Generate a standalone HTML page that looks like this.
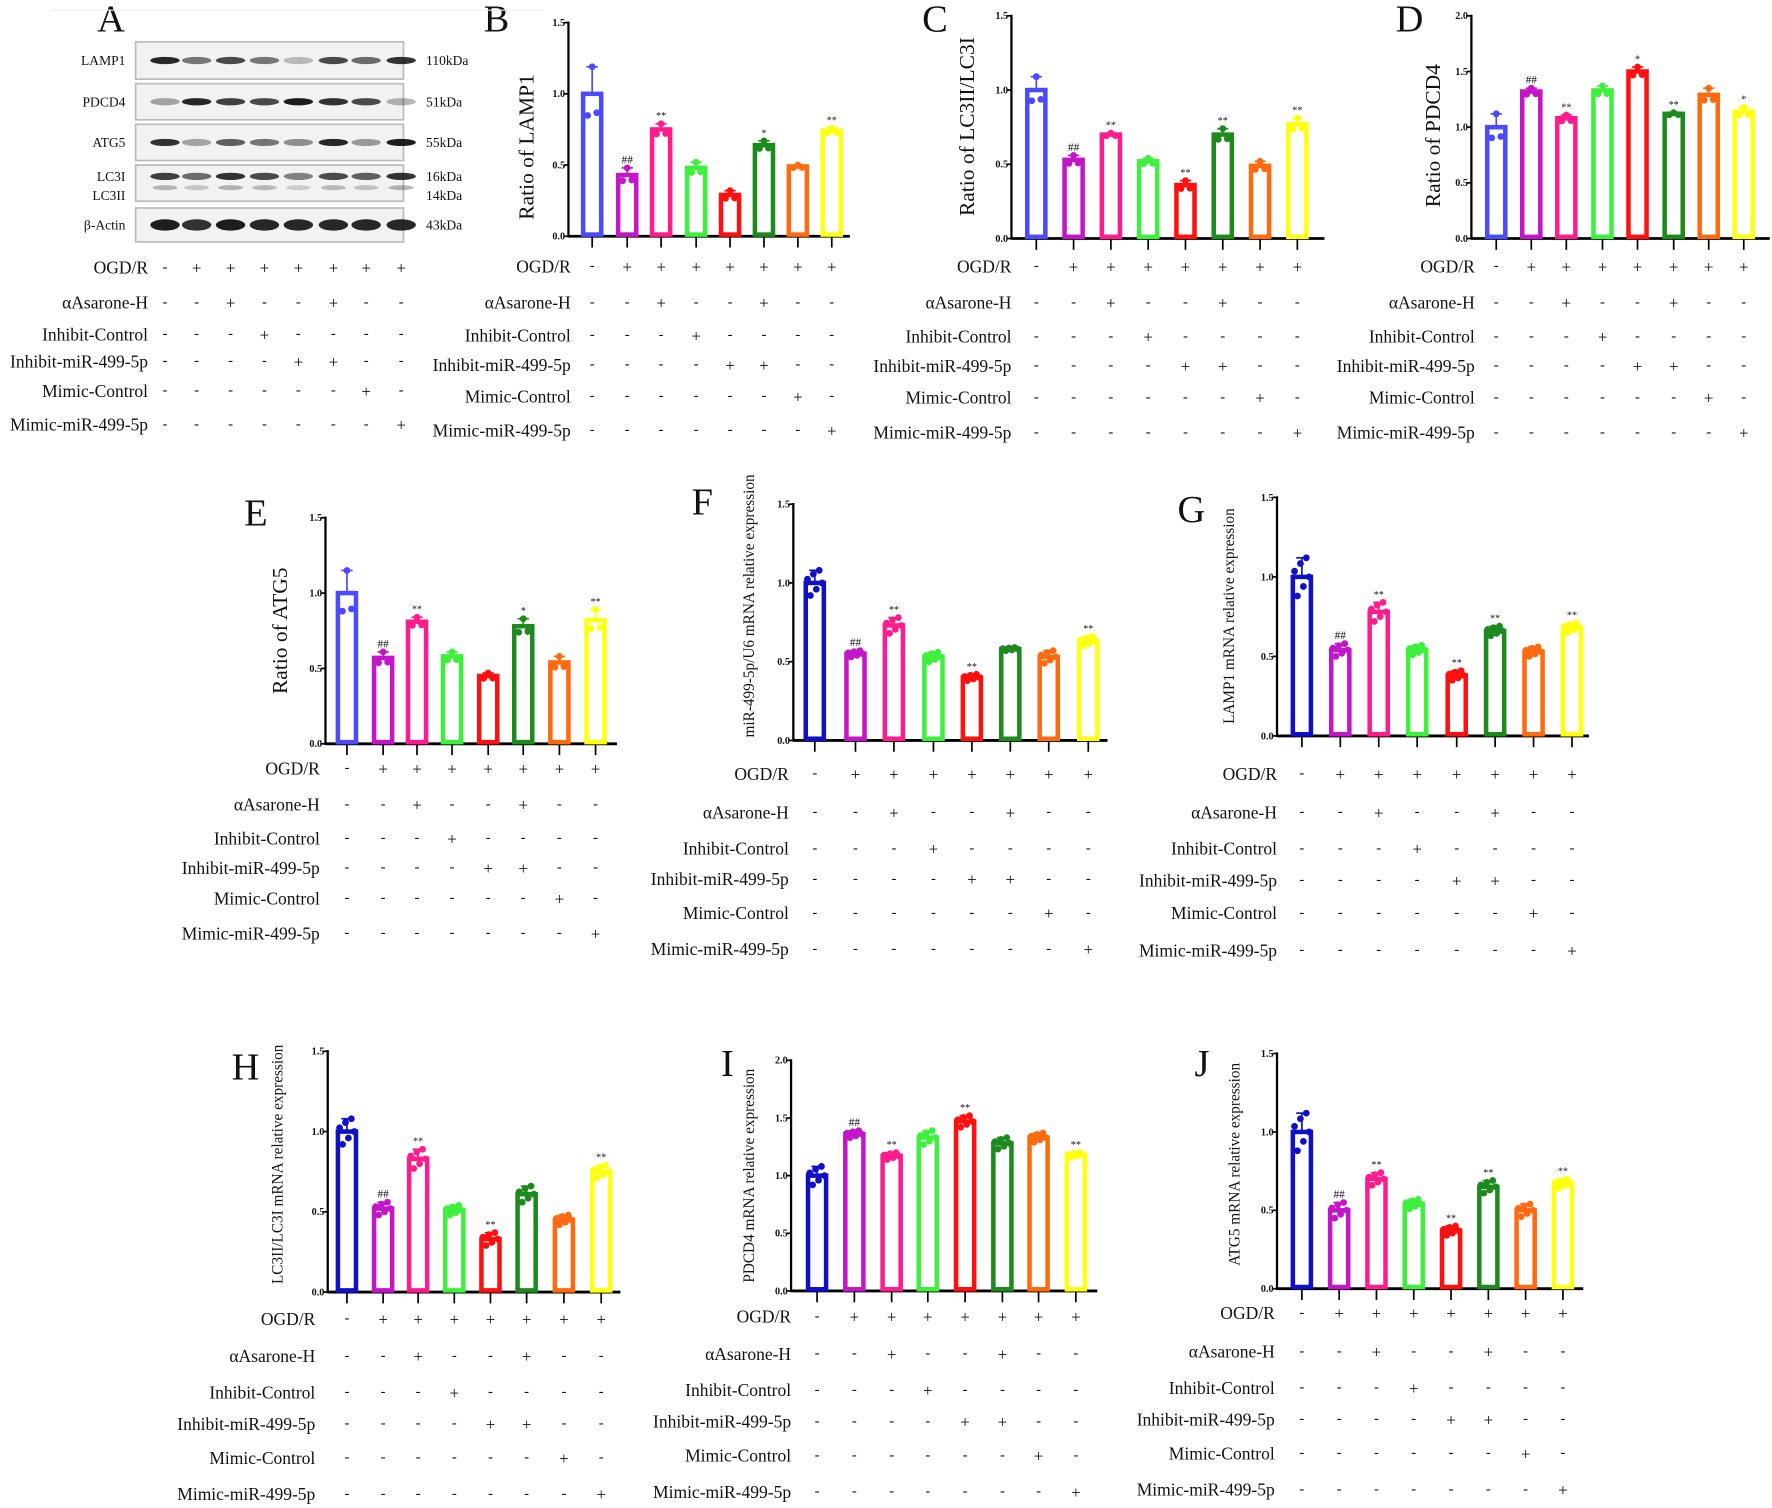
<!DOCTYPE html>
<html><head><meta charset="utf-8">
<style>
html,body{margin:0;padding:0;background:#fff;}
svg{display:block;}
text{font-family:"Liberation Serif",serif;fill:#111;}
</style></head>
<body>
<svg id="fig" xmlns="http://www.w3.org/2000/svg" width="1772" height="1508" viewBox="0 0 1568 1334" preserveAspectRatio="none">
<rect width="1568" height="1334" fill="#fff"/>
</svg>
<script>
const NS='http://www.w3.org/2000/svg';
const svg=document.getElementById('fig');
function mk(tag,attrs,parent,txt){const e=document.createElementNS(NS,tag);for(const k in attrs)e.setAttribute(k,attrs[k]);if(txt!==undefined)e.textContent=txt;(parent||svg).appendChild(e);return e;}

// ---- data ----
const groups=['Control','OGD/R','OGD/R+aAsarone-H','Inhibit-Control','Inhibit-miR-499-5p','aAsarone+Inhibit','Mimic-Control','Mimic-miR-499-5p'];
const rowLabels=['OGD/R','αAsarone-H','Inhibit-Control','Inhibit-miR-499-5p','Mimic-Control','Mimic-miR-499-5p'];
const rowSigns=[
 ['-','+','+','+','+','+','+','+'],
 ['-','-','+','-','-','+','-','-'],
 ['-','-','-','+','-','-','-','-'],
 ['-','-','-','-','+','+','-','-'],
 ['-','-','-','-','-','-','+','-'],
 ['-','-','-','-','-','-','-','+']];
const valsB=[1.0,0.43,0.75,0.48,0.29,0.64,0.49,0.74];
const errB=[0.19,0.05,0.04,0.04,0.03,0.03,0.01,0.02];
const valsC=[1.0,0.53,0.70,0.52,0.36,0.70,0.49,0.77];
const errC=[0.09,0.03,0.01,0.02,0.03,0.04,0.03,0.04];
const valsD=[1.0,1.32,1.08,1.33,1.50,1.12,1.29,1.14];
const errD=[0.12,0.03,0.03,0.04,0.04,0.01,0.06,0.04];
const valsE=[1.0,0.57,0.81,0.58,0.45,0.78,0.54,0.82];
const errE=[0.15,0.04,0.03,0.03,0.02,0.05,0.04,0.07];
const valsF=[1.0,0.55,0.73,0.53,0.40,0.58,0.53,0.63];
const errF=[0.08,0.02,0.05,0.03,0.02,0.01,0.04,0.03];
const valsG=[1.0,0.54,0.78,0.54,0.38,0.66,0.53,0.68];
const errG=[0.12,0.04,0.06,0.03,0.03,0.03,0.03,0.03];
const valsH=[1.0,0.52,0.83,0.51,0.33,0.61,0.45,0.75];
const errH=[0.08,0.04,0.06,0.03,0.04,0.05,0.03,0.04];
const valsI=[1.0,1.36,1.17,1.33,1.47,1.28,1.33,1.18];
const errI=[0.08,0.03,0.03,0.06,0.05,0.05,0.04,0.02];
const valsJ=[1.0,0.50,0.70,0.54,0.37,0.65,0.50,0.67];
const errJ=[0.12,0.05,0.04,0.03,0.03,0.04,0.04,0.03];
const sigB=['','##','**','','','*','','**'];
const sigC=['','##','**','','**','**','','**'];
const sigD=['','##','**','','*','**','','*'];
const sigE=['','##','**','','','*','','**'];
const sigF=['','##','**','','**','','','**'];
const sigG=['','##','**','','**','**','','**'];
const sigH=['','##','**','','**','','','**'];
const sigI=['','##','**','','**','','','**'];
const sigJ=['','##','**','','**','**','','**'];
const ticks15=['0.0','0.5','1.0','1.5'];
const ticks20=['0.0','0.5','1.0','1.5','2.0'];
// relative offsets of replicate dots (as fraction of sd)
const dots3=[-0.8,1.0,-0.7];
const dots6=[0.3,-1,0.7,-0.5,1,0];
const colorsLight=['#4a4aff','#c316c9','#ff1c8d','#3cf03c','#ff1010','#1d8a1d','#ff6a10','#ffff10'];
const colorsDark=['#1010c8','#c316c9','#ff1c8d','#3cf03c','#ff1010','#1d8a1d','#ff6a10','#ffff10'];

// ---- panel builder ----
function panel(p){
 const g=mk('g',{});
 
 
 const yS=v=>p.y0+(p.y1-p.y0)*v/p.vmax;
 const letter=mk('text',{x:p.lx,y:p.ly,'font-size':34},g,p.id);
 
 
 const ya=mk('line',{x1:p.ax,y1:p.y1-1,x2:p.ax,y2:p.y0+1,stroke:'#000','stroke-width':2},g);
 
 
 const xa=mk('line',{x1:p.ax,y1:p.y0,x2:p.xend,y2:p.y0,stroke:'#000','stroke-width':2.5},g);
 
 
 p.ticks.forEach(t=>{
  const y=yS(parseFloat(t));
  mk('line',{x1:p.ax-4,y1:y,x2:p.ax,y2:y,stroke:'#000','stroke-width':1.5},g);
  const tl=mk('text',{x:p.ax-3,y:y+3,'font-size':9,'text-anchor':'end','font-weight':'bold'},g,t);
  
  
 });
 const yt=mk('text',{x:0,y:0,'font-size':p.tfs,'text-anchor':'middle',transform:`translate(${p.tx},${p.ty}) rotate(-90)`},g,p.title);
 
 
 const bw=p.bw||20;
 p.vals.forEach((v,i)=>{
  const cx=p.xs[i], col=p.colors[i];
  mk('line',{x1:cx,y1:p.y0,x2:cx,y2:p.y0+10,stroke:'#000','stroke-width':1.5},g);
  const yv=yS(v);
  const b=mk('rect',{x:cx-bw/2+2,y:yv,width:bw-4,height:p.y0-yv-1.5,fill:'#fff',stroke:col,'stroke-width':4},g);
  
  
  const ye=yS(v+p.err[i]);
  mk('line',{x1:cx,y1:yv,x2:cx,y2:ye,stroke:col,'stroke-width':1.5},g);
  mk('line',{x1:cx-5,y1:ye,x2:cx+5,y2:ye,stroke:col,'stroke-width':1.5},g);
  const offs=p.n===3?dots3:dots6;
  offs.forEach((o,k)=>{
   const dx=p.n===3?(k-1)*4:(k-2.5)*2.6;
   const d=mk('circle',{cx:cx+dx,cy:yS(v+o*p.err[i]),r:3,fill:col},g);
   
   
  });
  if(p.sig[i]){
   const s=mk('text',{x:cx,y:ye-4,'font-size':p.sig[i]==='##'?10:9,'text-anchor':'middle'},g,p.sig[i]);
   
   
  }
 });
 rowLabels.forEach((lab,r)=>{
  const y=p.rows[r];
  const t=mk('text',{x:p.rlx,y:y+5,'font-size':15.5,'text-anchor':'end'},g,lab);
  
  
  rowSigns[r].forEach((s,i)=>{
   const cx=(p.cols||p.xs)[i];
   const st=mk('text',{x:cx,y:y+(s==='+'?5:3),'font-size':s==='+'?15:13,'text-anchor':'middle'},g,s==='+'?'+':'-');
   
   
  });
 });
}

panel({id:'B',lx:428,ly:28,ax:503,y0:209,y1:20,vmax:1.5,xend:752,ticks:ticks15,
 xs:[524,555,585,616,646,676,706,736],vals:valsB,err:errB,sig:sigB,colors:colorsLight,n:3,
 title:'Ratio of LAMP1',tfs:19,tx:472,ty:130,rows:[236,268,297,323,351,381],rlx:505});
panel({id:'C',lx:816,ly:28,ax:895,y0:211,y1:14,vmax:1.5,xend:1172,ticks:ticks15,
 xs:[917,950,983,1016,1049,1082,1115,1148],vals:valsC,err:errC,sig:sigC,colors:colorsLight,n:3,
 title:'Ratio of LC3II/LC3I',tfs:19,tx:862,ty:112,rows:[236,268,298,324,352,383],rlx:895});
panel({id:'D',lx:1235,ly:28,ax:1302,y0:211,y1:14,vmax:2.0,xend:1566,ticks:ticks20,
 xs:[1324,1355,1386,1418,1449,1481,1512,1543],vals:valsD,err:errD,sig:sigD,colors:colorsLight,n:3,
 title:'Ratio of PDCD4',tfs:19,tx:1274,ty:120,rows:[236,268,298,324,352,383],rlx:1305});
panel({id:'E',lx:216,ly:465,ax:288,y0:658,y1:458,vmax:1.5,xend:546,ticks:ticks15,
 xs:[307,339,369,400,432,463,495,527],vals:valsE,err:errE,sig:sigE,colors:colorsLight,n:3,
 title:'Ratio of ATG5',tfs:19,tx:254,ty:558,rows:[680,712,742,768,795,826],rlx:283});
panel({id:'F',lx:612,ly:455,ax:702,y0:655,y1:446,vmax:1.5,xend:980,ticks:ticks15,
 xs:[721,757,791,826,860,894,928,963],vals:valsF,err:errF,sig:sigF,colors:colorsDark,n:6,
 title:'miR-499-5p/U6 mRNA relative expression',tfs:13.5,tx:667,ty:536,rows:[685,719,751,778,808,840],rlx:698});
panel({id:'G',lx:1042,ly:462,ax:1130,y0:651,y1:440,vmax:1.5,xend:1406,ticks:ticks15,
 xs:[1152,1186,1220,1254,1289,1323,1357,1391],vals:valsG,err:errG,sig:sigG,colors:colorsDark,n:6,
 title:'LAMP1 mRNA relative expression',tfs:13.5,tx:1092,ty:545,rows:[685,719,751,779,808,841],rlx:1130});
panel({id:'H',lx:205,ly:955,ax:290,y0:1143,y1:930,vmax:1.5,xend:549,ticks:ticks15,
 xs:[307,339,370,402,434,466,499,532],vals:valsH,err:errH,sig:sigH,colors:colorsDark,n:6,
 title:'LC3II/LC3I mRNA relative expression',tfs:13.5,tx:250,ty:1030,rows:[1167,1200,1232,1260,1290,1322],rlx:279});
panel({id:'I',lx:638,ly:952,ax:700,y0:1142,y1:938,vmax:2.0,xend:971,ticks:ticks20,
 xs:[723,756,789,821,854,887,919,952],vals:valsI,err:errI,sig:sigI,colors:colorsDark,n:6,
 title:'PDCD4 mRNA relative expression',tfs:13.5,tx:667,ty:1040,rows:[1165,1198,1230,1258,1288,1320],rlx:700});
panel({id:'J',lx:1057,ly:952,ax:1130,y0:1140,y1:932,vmax:1.5,xend:1401,ticks:ticks15,
 xs:[1152,1185,1218,1251,1284,1317,1350,1383],vals:valsJ,err:errJ,sig:sigJ,colors:colorsDark,n:6,
 title:'ATG5 mRNA relative expression',tfs:13.5,tx:1097,ty:1030,rows:[1162,1196,1228,1256,1286,1318],rlx:1128});

// ---- Panel A: western blot ----
const blotNames=['LAMP1','PDCD4','ATG5','LC3I','β-Actin'];
const blotKda=['110kDa','51kDa','55kDa','16kDa','43kDa'];
const bandLAMP1=[0.9,0.55,0.75,0.55,0.25,0.75,0.6,0.85];
const bandPDCD4=[0.35,0.9,0.8,0.75,0.95,0.85,0.75,0.3];
const bandATG5=[0.85,0.35,0.65,0.55,0.45,0.9,0.4,0.95];
const bandLC3I=[0.8,0.6,0.85,0.75,0.5,0.75,0.65,0.85];
const bandActin=[0.95,0.85,0.95,0.9,0.9,0.9,0.9,0.9];
(function(){
 const g=mk('g',{});
 
 
 const L=mk('text',{x:86,y:28,'font-size':34},g,'A');
 
 
 mk('line',{x1:45,y1:9,x2:480,y2:9,stroke:'#eee','stroke-width':1},g);
 const boxes=[[37,70],[74,106],[110,142],[146,178],[184,214]];
 const bands=[bandLAMP1,bandPDCD4,bandATG5,bandLC3I,bandActin];
 const cols=[146,174,204,234,264,295,324,355];
 boxes.forEach((b,r)=>{
  const rect=mk('rect',{x:120,y:b[0],width:237,height:b[1]-b[0],fill:'#f2f2f2',stroke:'#bbb','stroke-width':1.5},g);
  
  
  const by=r===3?(b[0]+10):(b[0]+b[1])/2;
  bands[r].forEach((v,i)=>{
   mk('ellipse',{cx:cols[i],cy:by,rx:13,ry:r===4?5:3.2,fill:'#111','fill-opacity':v},g);
   if(r===3) mk('ellipse',{cx:cols[i],cy:by+10,rx:11,ry:2.2,fill:'#333','fill-opacity':v*0.4},g);
  });
  const nm=mk('text',{x:111,y:by+4,'font-size':12,'text-anchor':'end',fill:'#444'},g,blotNames[r]);
  
  
  const kd=mk('text',{x:377,y:by+4,'font-size':12,fill:'#444'},g,blotKda[r]);
  
  
  if(r===3){
   const n2=mk('text',{x:111,y:by+21,'font-size':12,'text-anchor':'end',fill:'#444'},g,'LC3II');
   
   
   const k2=mk('text',{x:377,y:by+21,'font-size':12,fill:'#444'},g,'14kDa');
   
   
  }
 });
 const rows=[237,268,296,320,346,376];
 rowLabels.forEach((lab,r)=>{
  const t=mk('text',{x:131,y:rows[r]+5,'font-size':15.5,'text-anchor':'end'},g,lab);
  
  
  rowSigns[r].forEach((s,i)=>{
   const st=mk('text',{x:cols[i],y:rows[r]+(s==='+'?5:3),'font-size':s==='+'?15:13,'text-anchor':'middle'},g,s);
   
   
  });
 });
})();
</script>
</body></html>
